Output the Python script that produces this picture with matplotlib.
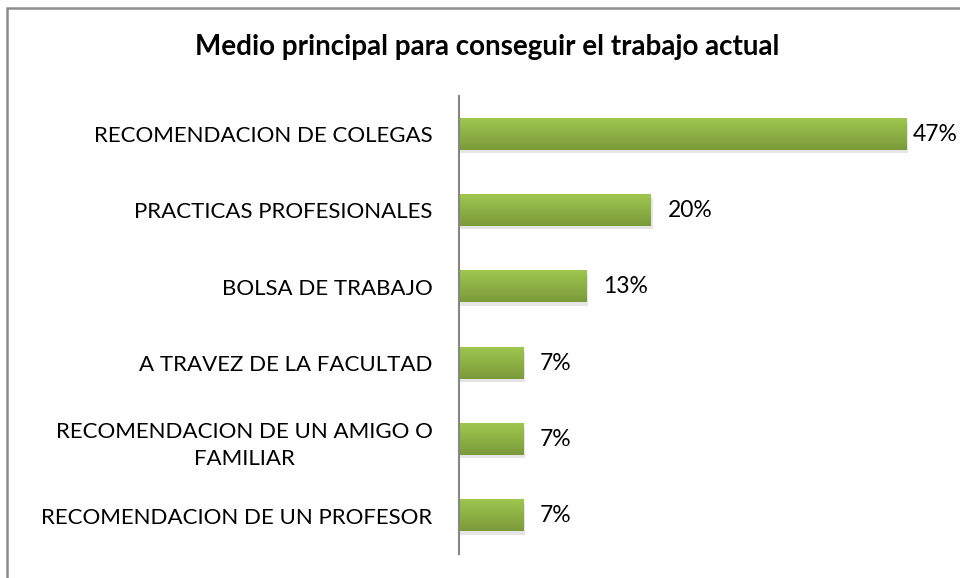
import matplotlib
matplotlib.use("Agg")
import matplotlib.pyplot as plt
import numpy as np
from matplotlib.colors import LinearSegmentedColormap
from matplotlib.patches import Rectangle

title = "Medio principal para conseguir el trabajo actual"
categories = [
    "RECOMENDACION DE COLEGAS",
    "PRACTICAS PROFESIONALES",
    "BOLSA DE TRABAJO",
    "A TRAVEZ DE LA FACULTAD",
    "RECOMENDACION DE UN AMIGO O\nFAMILIAR",
    "RECOMENDACION DE UN PROFESOR",
]
values = [46.7, 20.0, 13.3, 6.7, 6.7, 6.7]
value_labels = ["47%", "20%", "13%", "7%", "7%", "7%"]

plt.rcParams['font.family'] = ['Lato', 'DejaVu Sans']

W, H = 960, 578
fig = plt.figure(figsize=(W / 100, H / 100), dpi=100)

# outer border (extends beyond right/bottom edges)
fig.add_artist(Rectangle((6.5 / W, -0.05), 1.2, 1 - 7.5 / H + 0.05,
                         transform=fig.transFigure, fill=False,
                         edgecolor="#8c8c8c", linewidth=1.8))

left, right = 459 / W, 938 / W
top, bottom = 1 - 96 / H, 1 - 554 / H
ax = fig.add_axes([left, bottom, right - left, top - bottom])

n = len(categories)
y = np.arange(n)
bars = ax.barh(y, values, height=0.41, color="none", zorder=3)

cmap = LinearSegmentedColormap.from_list("g", ["#9fc74e", "#7b9a3a"])
grad = np.linspace(0, 1, 64).reshape(-1, 1)
for b in bars:
    x0, y0, w, h = b.get_x(), b.get_y(), b.get_width(), b.get_height()
    # shadow
    ax.add_patch(Rectangle((x0, y0 + 0.04), w + 0.2, h, facecolor="#000000",
                           alpha=0.10, edgecolor="none", zorder=2))
    ax.imshow(grad, extent=(x0, x0 + w, y0 + h, y0), cmap=cmap, aspect="auto",
              zorder=3, interpolation="bilinear")
ax.set_xlim(0, 50)
ax.set_ylim(n - 0.5, -0.5)

offsets = [6, 17, 17, 17, 17, 17]
for i, (v, lab) in enumerate(zip(values, value_labels)):
    ax.annotate(lab, (v, i), xytext=(offsets[i] * 0.72, 0), textcoords="offset points",
                ha="left", va="center", fontsize=16.5, color="#000000")

ax.set_yticks(y)
ax.set_yticklabels(categories, fontsize=16, linespacing=1.45, multialignment="center")
ax.tick_params(axis="y", length=0, pad=19)
ax.set_xticks([])
for s in ["top", "right", "bottom"]:
    ax.spines[s].set_visible(False)
ax.spines["left"].set_color("#868686")
ax.spines["left"].set_linewidth(1.5)
ax.spines["left"].set_zorder(4)

fig.text(487 / W, 1 - 47 / H, title, ha="center", va="center",
         fontsize=20, fontweight="bold")

fig.savefig("out.png", dpi=100)
